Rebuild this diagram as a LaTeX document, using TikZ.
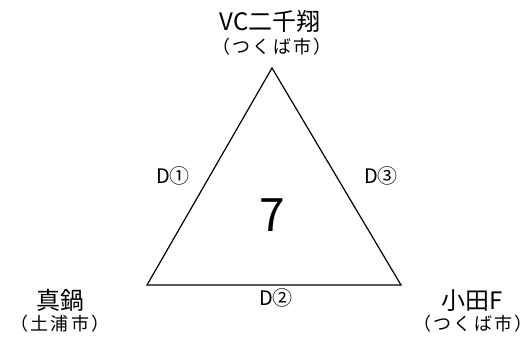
\documentclass[tikz,border=0pt]{standalone}
\usepackage{fontspec}
\setmainfont{Noto Sans CJK JP}
\tikzset{
  site/.style={inner sep=0pt, font=\fontsize{24}{24}\selectfont},
  city/.style={inner sep=0pt, font=\fontsize{18}{18}\selectfont\addfontfeature{LetterSpace=12}},
  game/.style={inner sep=0pt, font=\fontsize{20}{20}\selectfont},
}
\begin{document}
\begin{tikzpicture}[x=1pt,y=1pt]
\useasboundingbox (0,0) rectangle (532,341);
% corners of the triangle
\coordinate (top) at (272,273);
\coordinate (left) at (147,56);
\coordinate (right) at (401,56);
\draw[line width=1.2pt] (top) -- (left) -- (right) -- cycle;
% teams
\node[site] (vc) at (270,320) {VC二千翔};
\node[city] (vccity) at (272,294) {（つくば市）};
\node[site] (manabe) at (60,41) {真鍋};
\node[city] (manabecity) at (60,17) {（土浦市）};
\node[site] (oda) at (472,40) {小田F};
\node[city] (odacity) at (473,17) {（つくば市）};
% games
\node[game] (d1) at (173,165) {D①};
\node[game] (d2) at (276,43) {D②};
\node[game] (d3) at (381,165) {D③};
\node[inner sep=0pt, font=\fontsize{46}{46}\selectfont] (count) at (272,126) {7};
\end{tikzpicture}
\end{document}
